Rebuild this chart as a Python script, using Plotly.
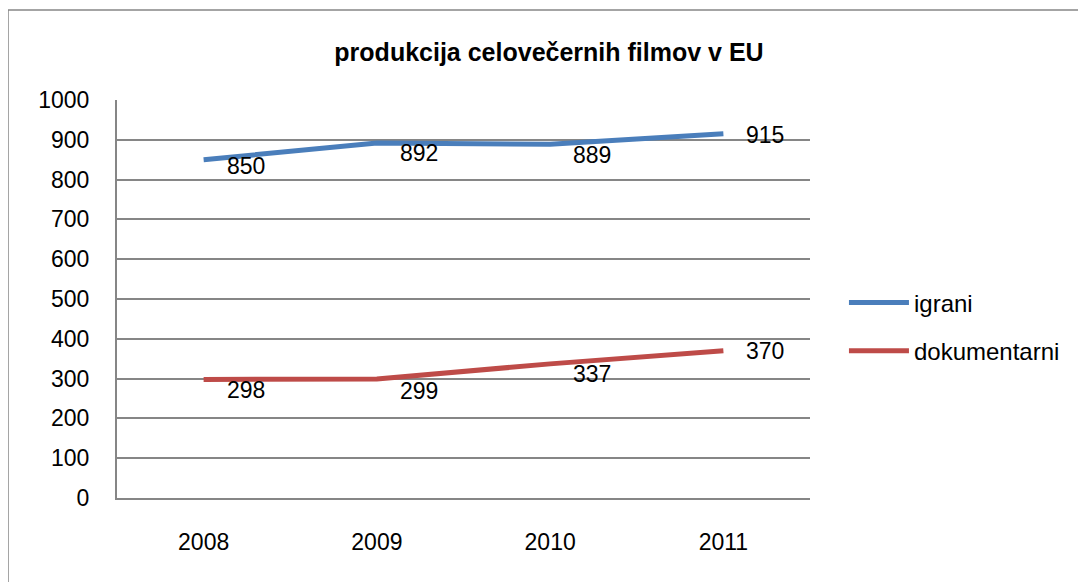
import plotly.graph_objects as go

# Chart data
years = ["2008", "2009", "2010", "2011"]
igrani = [850, 892, 889, 915]
dokumentarni = [298, 299, 337, 370]

# Label vertical nudges (pixels, negative = down) to mimic the original placement
igrani_shift = [-6, -10, -11, -1]
dok_shift = [-11, -12, -10, 0]

FONT = "Liberation Sans"
GRID = "#868686"

fig = go.Figure()
fig.add_trace(go.Scatter(x=years, y=igrani, name="igrani", mode="lines",
                         legendgroup="a",
                         line=dict(color="#4A7EBB", width=5)))
fig.add_trace(go.Scatter(x=years, y=dokumentarni, name="dokumentarni", mode="lines",
                         legendgroup="b",
                         line=dict(color="#BE4B48", width=5)))

# Data labels to the right of each point (x given as category index)
for vals, shifts in ((igrani, igrani_shift), (dokumentarni, dok_shift)):
    for i, (v, s) in enumerate(zip(vals, shifts)):
        fig.add_annotation(x=i, y=v, text=str(v), showarrow=False,
                           xanchor="left", xshift=21, yshift=s,
                           font=dict(family=FONT, size=23, color="black"))

# Chart border (only top and left visible in the original crop)
fig.add_shape(type="rect", xref="paper", yref="paper",
              x0=-0.1573, x1=1.45, y0=-0.3, y1=1.226,
              line=dict(color="#868686", width=1.5), fillcolor="rgba(0,0,0,0)")

fig.update_layout(
    width=1086, height=582,
    margin=dict(l=109, r=284, t=92, b=92),
    paper_bgcolor="white", plot_bgcolor="white",
    title=dict(text="<b>produkcija celovečernih filmov v EU</b>",
               x=(549 - 117) / 693, xref="paper", xanchor="center",
               y=1 - 44 / 582, yanchor="middle",
               font=dict(family=FONT, size=25, color="black")),
    font=dict(family=FONT, size=23, color="black"),
    showlegend=True,
    legend=dict(x=1.049, y=0.43, xanchor="left", yanchor="middle",
                font=dict(family=FONT, size=24, color="black"),
                itemwidth=60, tracegroupgap=14, bgcolor="rgba(0,0,0,0)"),
)

fig.update_xaxes(type="category", range=[-0.5, 3.5], showgrid=False,
                 showline=True, linecolor=GRID, linewidth=2, ticks="",
                 ticklabelstandoff=22, tickfont=dict(family=FONT, size=23))
fig.update_yaxes(range=[0, 1000], dtick=100, showgrid=True, gridcolor=GRID,
                 gridwidth=1.5, showline=True, linecolor=GRID, linewidth=2,
                 zeroline=False, ticks="", ticklabelstandoff=21,
                 tickfont=dict(family=FONT, size=23))

fig.write_html("out.html")
